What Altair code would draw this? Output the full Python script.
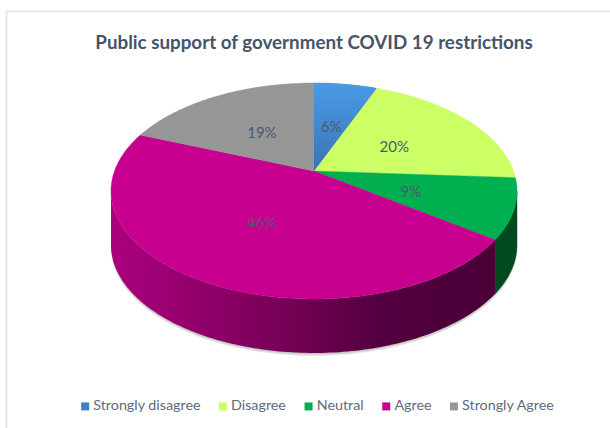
import math
import altair as alt

# Survey shares, in percent, clockwise from twelve o'clock
categories = ["Strongly disagree", "Disagree", "Neutral", "Agree", "Strongly Agree"]
shares = [6, 20, 9, 46, 19]
top_colors = ["#3f7fc2", "#ccff66", "#00b050", "#c80090", "#969696"]
title_text = "Public support of government COVID 19 restrictions"

# Tilted-disc drawing parameters (pixels on the canvas)
APEX_X, APEX_Y = 314, 171
RADIUS_X, RADIUS_Y = 199.5, 104.3
TILT = 0.185
DEPTH = 54
STEPS = 180


def disc_point(theta, r=1.0, drop=0.0):
    """Perspective projection of a point on the disc; theta runs clockwise from the top."""
    d = 1 + TILT * r * math.cos(theta)
    return [
        APEX_X + RADIUS_X * r * math.sin(theta) / d,
        APEX_Y - RADIUS_Y * r * math.cos(theta) / d + drop,
    ]


def rim(a, b, drop=0.0):
    n = max(2, int(abs(b - a) / (2 * math.pi) * STEPS * 2))
    return [disc_point(a + (b - a) * i / n, drop=drop) for i in range(n + 1)]


def polygon(points, **props):
    ring = list(points) + [points[0]]
    return {
        "type": "Feature",
        "geometry": {"type": "Polygon", "coordinates": [ring]},
        "properties": props,
    }


total = sum(shares)
edges = [0.0]
for s in shares:
    edges.append(edges[-1] + 2 * math.pi * s / total)

slices = [
    polygon([disc_point(0, r=0)] + rim(edges[i], edges[i + 1]), category=categories[i])
    for i in range(len(categories))
]

# Only the front of the disc shows a wall, between the two silhouette tangents
tangent_right = math.acos(-TILT)
tangent_left = 2 * math.pi - tangent_right


def wall(a, b, drop=DEPTH):
    return polygon(rim(a, b) + rim(b, a, drop=drop))


view = dict(type="identity", scale=1, translate=[0, 0])


def shape(features, **mark):
    return alt.Chart(alt.Data(values=features)).mark_geoshape(**mark).project(**view)


def wall_fill(stops):
    return alt.LinearGradient(
        gradient="linear", x1=0, x2=1, y1=0, y2=0,
        stops=[alt.GradientStop(offset=o, color=c) for o, c in stops],
    )


# Thin panel border along the top and left
border = shape(
    [{
        "type": "Feature",
        "geometry": {"type": "LineString", "coordinates": [[610, 11.5], [6.5, 11.5], [6.5, 428]]},
        "properties": {},
    }],
    filled=False, stroke="#e3e7ec", strokeWidth=2,
)

# Soft edge under the wall
shadow = alt.layer(*[
    shape([wall(tangent_right, tangent_left, drop=DEPTH + d)],
          fill="#777777", fillOpacity=0.16, strokeWidth=0)
    for d in (1, 2, 3)
])

green_wall = shape([wall(tangent_right, edges[3])], fill="#004a20", stroke="#004a20", strokeWidth=0.4)
magenta_wall = shape(
    [wall(edges[3], tangent_left)],
    fill=wall_fill([(0, "#ab007f"), (0.35, "#84005f"), (0.7, "#530040"), (1, "#4a0036")]),
    strokeWidth=0,
)

tops = (
    alt.Chart(alt.Data(values=slices))
    .mark_geoshape(strokeWidth=0.4)
    .encode(
        color=alt.Color(
            "properties.category:N",
            scale=alt.Scale(domain=categories, range=top_colors),
            legend=alt.Legend(
                title=None, orient="none", direction="horizontal", columns=5,
                legendX=78, legendY=399, symbolType="square", symbolSize=64,
                symbolStrokeWidth=0, labelFont="Lato", labelFontSize=14.3,
                labelColor="#5d6b80", labelOffset=1, columnPadding=14.7,
                labelLimit=200,
            ),
        ),
        stroke=alt.Color("properties.category:N", scale=alt.Scale(domain=categories, range=top_colors), legend=None),
    )
    .project(**view)
)

# The first slice carries a slight vertical shading
blue_shade = shape(
    [slices[0]],
    fill=alt.LinearGradient(
        gradient="linear", x1=0, x2=0, y1=0, y2=1,
        stops=[alt.GradientStop(offset=0, color="#4a9ae6"),
               alt.GradientStop(offset=1, color="#3a74b2")],
    ),
    strokeWidth=0,
)

label_rows = []
cumulative = 0
for cat, s in zip(categories, shares):
    mid = 2 * math.pi * (cumulative + s / 2) / total
    cumulative += s
    lon, lat = disc_point(mid, r=0.5)
    label_rows.append({"lon": lon, "lat": lat, "label": f"{s}%"})

labels = (
    alt.Chart(alt.Data(values=label_rows))
    .mark_text(font="Lato", fontSize=15, color="#4a5a72", align="center", baseline="middle", dy=2.5)
    .encode(longitude="lon:Q", latitude="lat:Q", text="label:N")
    .project(**view)
)

chart = (
    alt.layer(border, shadow, green_wall, magenta_wall, tops, blue_shade, labels)
    .properties(
        width=610,
        height=428,
        padding=0,
        autosize=alt.AutoSizeParams(type="none"),
        title=alt.TitleParams(
            title_text, font="Lato", fontSize=18.8, fontWeight="bold", color="#44546a",
            anchor="middle", frame="group", dx=9, dy=57,
        ),
    )
    .configure_view(stroke=None)
)

chart.save("out.html", embed_options={"renderer": "svg", "actions": False})
